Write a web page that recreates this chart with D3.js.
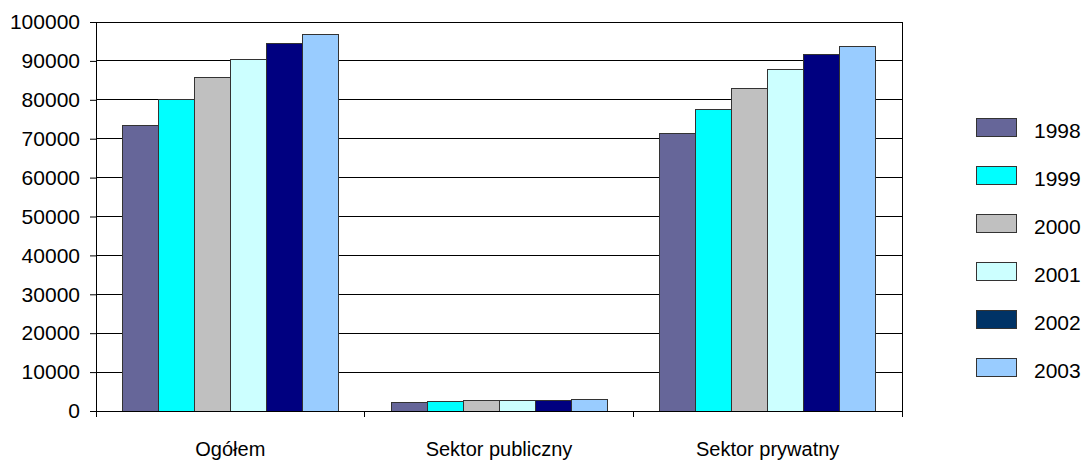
<!DOCTYPE html>
<html><head><meta charset="utf-8">
<script src="https://cdn.jsdelivr.net/npm/d3@7"></script>
<style>body{margin:0;background:#fff}svg{display:block}text{font-family:"Liberation Sans",Arial,sans-serif;fill:#000}</style>
</head><body><svg id="c" width="1084" height="462"></svg>
<script>
const categories = ["Ogółem", "Sektor publiczny", "Sektor prywatny"];
const years = ["1998", "1999", "2000", "2001", "2002", "2003"];
const values1998 = [73500, 2200, 71400];
const values1999 = [80000, 2500, 77400];
const values2000 = [85800, 2650, 83000];
const values2001 = [90400, 2650, 87700];
const values2002 = [94500, 2750, 91700];
const values2003 = [96800, 3000, 93800];
const yTicks = [0, 10000, 20000, 30000, 40000, 50000, 60000, 70000, 80000, 90000, 100000];
const barColors = ["#666699", "#00FFFF", "#C0C0C0", "#CCFFFF", "#000080", "#99CCFF"];
const legendColors = ["#666699", "#00FFFF", "#C0C0C0", "#CCFFFF", "#003366", "#99CCFF"];

const series = [values1998, values1999, values2000, values2001, values2002, values2003];
const svg = d3.select("#c");
const L = 96, R = 902, T = 22, B = 411;
const FS = 21, FSX = 20;
const x = d3.scaleBand().domain(categories).range([L, R]);
const x1 = d3.scaleBand().domain(years).range([0, 216]);
const y = d3.scaleLinear().domain([0, 100000]).range([B, T]);

// gridlines
svg.append("g").selectAll("line").data(yTicks.filter(d => d > 0)).join("line")
  .attr("x1", L).attr("x2", R).attr("y1", d => y(d)).attr("y2", d => y(d))
  .attr("stroke", "#000").attr("stroke-width", 1).attr("shape-rendering", "crispEdges");
// right border
svg.append("line").attr("x1", R).attr("x2", R).attr("y1", T).attr("y2", B)
  .attr("stroke", "#000").attr("shape-rendering", "crispEdges");

// bars
categories.forEach((c, ci) => {
  const off = x(c) + (x.bandwidth() - 216) / 2;
  const g = svg.append("g").attr("transform", `translate(${off},0)`);
  g.selectAll("rect").data(years.map((yr, i) => ({yr, v: series[i][ci], i}))).join("rect")
    .attr("x", d => x1(d.yr)).attr("width", x1.bandwidth())
    .attr("y", d => y(d.v)).attr("height", d => B - y(d.v))
    .attr("fill", d => barColors[d.i]).attr("stroke", "#333").attr("stroke-width", 1)
    .attr("shape-rendering", "crispEdges");
});

// y axis
const ya = svg.append("g").attr("transform", `translate(${L},0)`)
  .call(d3.axisLeft(y).tickValues(yTicks).tickFormat(d3.format("d")).tickSize(6).tickPadding(10));
ya.select(".domain").attr("stroke", "#000");
ya.selectAll("line").attr("stroke", "#000");
ya.selectAll("text").attr("font-size", FS).attr("font-family", "Liberation Sans, Arial, sans-serif");

// x axis
const xa = svg.append("g").attr("transform", `translate(0,${B})`)
  .call(d3.axisBottom(x).tickSize(0).tickPadding(31));
xa.select(".domain").attr("stroke", "#000");
xa.selectAll("text").attr("font-size", FSX).attr("font-family", "Liberation Sans, Arial, sans-serif");
const bounds = [L, ...categories.map(c => x(c) + x.bandwidth())];
svg.append("g").selectAll("line").data(bounds).join("line")
  .attr("x1", d => d).attr("x2", d => d).attr("y1", B).attr("y2", B + 6)
  .attr("stroke", "#000").attr("shape-rendering", "crispEdges");

// legend
const lg = svg.append("g");
years.forEach((yr, i) => {
  const cy = 127 + i * 48;
  lg.append("rect").attr("x", 976).attr("y", cy - 9).attr("width", 40).attr("height", 18)
    .attr("fill", legendColors[i]).attr("stroke", "#333").attr("shape-rendering", "crispEdges");
  lg.append("text").attr("x", 1034).attr("y", cy + 11).attr("font-size", FS).text(yr);
});
</script></body></html>
